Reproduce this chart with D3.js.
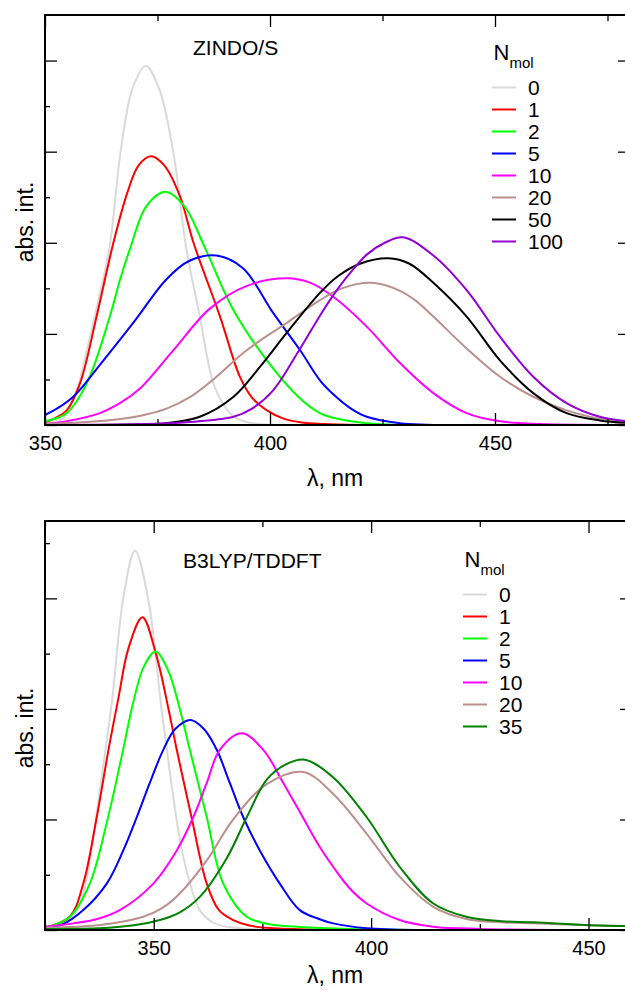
<!DOCTYPE html>
<html lang="en">
<head>
	<meta charset="UTF-8">
	<title>Absorption spectra vs N_mol</title>
	<script type="text/javascript" src="https://cdn.jsdelivr.net/npm/d3@7"></script>
	<style>
		body { margin: 0; background: #fff; }
		text { font-family: "Liberation Sans", Arial, sans-serif; fill: #000; }
	</style>
</head>
<body>
<script type="text/javascript">
	// ---- data: [wavelength nm, intensity (arb.)] ----
	var zindoLabels = ['0', '1', '2', '5', '10', '20', '50', '100'];
	var zindo0 = [[350,0.02],[354,0.07],[357,0.38],[359.3,0.82],[362,1.4],[364.4,1.97],[366.8,3.0],[369.5,3.7],[372.4,3.94],[375.3,3.7],[378.5,3.0],[381.3,1.97],[384.4,1.19],[387.4,0.46],[390,0.2],[392,0.09],[396,0.02],[402,0]];
	var zindo1 = [[350,0.03],[352,0.07],[354.8,0.16],[357.8,0.46],[361.5,1.2],[365.2,2.0],[368.3,2.55],[370.8,2.85],[373.5,2.95],[376.5,2.85],[380,2.51],[383,2.0],[388.9,1.19],[393.3,0.53],[396,0.3],[399.3,0.16],[403,0.07],[406.7,0.03],[412,0.01],[420,0]];
	var zindo2 = [[350,0.04],[354.8,0.13],[359.3,0.46],[364.4,1.19],[366.7,1.6],[369,1.95],[372.5,2.4],[376.7,2.56],[381,2.4],[385.5,1.95],[391.9,1.26],[399.3,0.71],[406.7,0.29],[411.1,0.13],[414,0.08],[421.5,0.02],[430,0]];
	var zindo5 = [[350,0.11],[353,0.19],[356.7,0.33],[362.2,0.66],[369.6,1.12],[377,1.6],[382,1.8],[388.1,1.86],[394,1.72],[400.7,1.23],[406.7,0.82],[411.1,0.49],[414,0.34],[418,0.18],[421.5,0.09],[428.9,0.02],[440,0]];
	var zindo10 = [[350,0.01],[354.8,0.04],[362.2,0.13],[367,0.25],[371.1,0.4],[378.5,0.82],[386.7,1.28],[395,1.53],[403.7,1.61],[409,1.56],[414,1.41],[421.5,1.08],[428.9,0.68],[436.3,0.35],[443.7,0.13],[451.1,0.04],[460,0.01],[480,0]];
	var zindo20 = [[350,0.01],[358,0.03],[365.9,0.06],[372,0.11],[377,0.18],[382,0.3],[387.4,0.5],[394.8,0.82],[403.7,1.12],[411.1,1.37],[416,1.5],[422.6,1.56],[429,1.47],[432.5,1.36],[436.3,1.19],[443.7,0.84],[451.1,0.53],[458.5,0.31],[465.9,0.16],[473.3,0.07],[480,0.03]];
	var zindo50 = [[350,0],[370,0.005],[377,0.02],[384.4,0.09],[391.9,0.31],[397.8,0.64],[403.7,1.01],[411.1,1.45],[415,1.63],[420,1.77],[426.3,1.83],[431,1.77],[436.3,1.56],[443.7,1.19],[451.1,0.71],[458.5,0.35],[465.9,0.13],[473.3,0.05],[480,0.02]];
	var zindo100 = [[350,0],[372,0.01],[381.5,0.03],[391.9,0.09],[396,0.18],[400.7,0.38],[406.7,0.84],[411.1,1.2],[414,1.42],[417.5,1.65],[421.5,1.87],[425.5,2.0],[429.6,2.06],[436.3,1.86],[443.7,1.48],[451.1,0.97],[458.5,0.53],[465.9,0.24],[473.3,0.09],[480,0.04]];

	var b3lypLabels = ['0', '1', '2', '5', '10', '20', '35'];
	var b3lyp0 = [[325,0.01],[329,0.05],[332.5,0.18],[334.5,0.45],[336.5,0.95],[338.8,1.6],[340.5,2.1],[343,3.0],[345.7,3.43],[348.7,3.0],[351.8,2.0],[353.3,1.55],[355.3,0.99],[356.6,0.7],[358.5,0.4],[360.6,0.18],[363.5,0.07],[366.8,0.03],[372,0.01],[380,0]];
	var b3lyp1 = [[325,0.02],[330.7,0.12],[333.8,0.42],[336.9,1.02],[339.6,1.63],[341.9,2.1],[344.2,2.55],[347.4,2.83],[350.5,2.5],[353.4,2.0],[355.3,1.63],[358.7,1.02],[362.2,0.42],[365,0.18],[368.3,0.09],[372,0.04],[376,0.02],[385,0.005],[400,0]];
	var b3lyp2 = [[325,0.02],[330.7,0.12],[335.3,0.42],[339.2,0.97],[342.8,1.6],[345.3,2.06],[347.7,2.38],[350.4,2.52],[353.3,2.35],[356,2.0],[358.3,1.63],[362.2,1.02],[366,0.42],[371.4,0.12],[377,0.05],[383,0.03],[395,0.01],[420,0]];
	var b3lyp5 = [[325,0.02],[329,0.05],[333.8,0.18],[339.2,0.42],[343,0.72],[346.1,1.02],[349.1,1.33],[352.2,1.63],[355,1.82],[358.5,1.9],[361.5,1.82],[364.5,1.63],[367.5,1.33],[370.6,1.02],[374.4,0.72],[379,0.42],[383.6,0.18],[388,0.1],[391.3,0.06],[399,0.015],[410,0]];
	var b3lyp10 = [[325,0.03],[331.5,0.06],[337,0.1],[342.2,0.18],[349.9,0.42],[355.3,0.72],[359.1,1.02],[362.2,1.33],[365.2,1.63],[370.2,1.78],[375.2,1.63],[379.8,1.33],[384,1.04],[388.2,0.75],[391.3,0.57],[395,0.38],[399,0.24],[406.6,0.09],[414.3,0.03],[425,0.01],[460,0]];
	var b3lyp20 = [[325,0.02],[337.6,0.045],[347.6,0.12],[352,0.2],[356,0.33],[362.2,0.63],[368.3,1.0],[376,1.32],[384.4,1.43],[391.3,1.23],[399,0.87],[406.6,0.48],[414.3,0.21],[421.9,0.1],[430,0.07],[437.3,0.06],[452.6,0.04],[460,0.035]];
	var b3lyp35 = [[325,0.01],[337.6,0.015],[345,0.04],[351.4,0.09],[356,0.16],[360.6,0.3],[366.8,0.65],[371.4,1.02],[376,1.36],[380.5,1.5],[384.8,1.54],[391.3,1.38],[399,1.02],[406.6,0.57],[414.3,0.24],[421.9,0.12],[430,0.08],[437.3,0.07],[452.6,0.04],[460,0.035]];

	var zindoXMajor = [350, 400, 450];
	var zindoXMinor = [375, 425, 475];
	var zindoYMajor = [0, 1, 2, 3, 4];
	var zindoYMinor = [0.5, 1.5, 2.5, 3.5];
	var b3lypXMajor = [350, 400, 450];
	var b3lypXMinor = [325, 375, 425];
	var b3lypYMajor = [0, 1, 2, 3];
	var b3lypYMinor = [0.5, 1.5, 2.5, 3.5];

	// ---- styles ----
	var colors = {
		'0': '#dadada', '1': '#ff0000', '2': '#00ff00', '5': '#0000ff',
		'10': '#ff00ff', '20': '#bc8f8f', '35': '#008000', '50': '#000000', '100': '#9400d3'
	};

	var svg = d3.select('body').append('svg')
		.attr('width', 625)
		.attr('height', 990);

	function drawPanel(p) {
		var x = d3.scaleLinear().domain(p.xDomain).range([p.left, p.right]);
		var y = d3.scaleLinear().domain(p.yDomain).range([p.bottom, p.top]);
		var g = svg.append('g');

		g.append('clipPath').attr('id', p.id)
			.append('rect')
			.attr('x', p.left).attr('y', p.top)
			.attr('width', p.right - p.left).attr('height', p.bottom - p.top);

		var line = d3.line()
			.x(function (d) { return x(d[0]); })
			.y(function (d) { return y(d[1]); })
			.curve(d3.curveCatmullRom.alpha(0.5));

		g.append('g').attr('clip-path', 'url(#' + p.id + ')')
			.selectAll('path')
			.data(p.series)
			.enter().append('path')
			.attr('d', function (d) { return line(d.values); })
			.attr('fill', 'none')
			.attr('stroke', function (d) { return colors[d.label]; })
			.attr('stroke-width', 2);

		function ticks(axis, transform, values, size, labels) {
			var a = g.append('g').attr('transform', transform)
				.call(axis.tickValues(values).tickSize(size).tickPadding(11)
					.tickFormat(labels ? d3.format('d') : ''));
			a.select('.domain').remove();
			a.selectAll('line').attr('stroke-width', 1.3);
			a.selectAll('text').attr('font-size', 20)
				.attr('font-family', '"Liberation Sans", Arial, sans-serif');
		}

		ticks(d3.axisBottom(x), 'translate(0,' + p.bottom + ')', p.xMajor, -12, true);
		ticks(d3.axisBottom(x), 'translate(0,' + p.bottom + ')', p.xMinor, -6, false);
		ticks(d3.axisTop(x), 'translate(0,' + p.top + ')', p.xMajor, -12, false);
		ticks(d3.axisTop(x), 'translate(0,' + p.top + ')', p.xMinor, -6, false);
		ticks(d3.axisLeft(y), 'translate(' + p.left + ',0)', p.yMajor, -12, false);
		ticks(d3.axisLeft(y), 'translate(' + p.left + ',0)', p.yMinor, -5, false);
		ticks(d3.axisRight(y), 'translate(' + p.right + ',0)', p.yMajor, -12, false);
		ticks(d3.axisRight(y), 'translate(' + p.right + ',0)', p.yMinor, -5, false);

		g.append('rect')
			.attr('x', p.left).attr('y', p.top)
			.attr('width', p.right - p.left).attr('height', p.bottom - p.top)
			.attr('fill', 'none').attr('stroke', '#000').attr('stroke-width', 2);

		g.append('text')
			.attr('x', p.titleX).attr('y', p.titleY)
			.attr('font-size', 21)
			.text(p.title);

		g.append('text')
			.attr('transform', 'translate(33,' + p.yLabelY + ') rotate(-90)')
			.attr('text-anchor', 'middle')
			.attr('font-size', 23)
			.text('abs. int.');

		g.append('text')
			.attr('x', 335).attr('y', p.xLabelY)
			.attr('text-anchor', 'middle')
			.attr('font-size', 23)
			.text('\u03bb, nm');

		// legend
		var leg = g.append('g').attr('transform', 'translate(' + p.legX + ',' + p.legY + ')');
		var head = leg.append('text').attr('x', 1.5).attr('y', 0).attr('font-size', 22);
		head.append('tspan').text('N');
		head.append('tspan').attr('font-size', 15).attr('dy', 8).text('mol');

		var rows = leg.selectAll('.row')
			.data(p.series)
			.enter().append('g')
			.attr('class', 'row')
			.attr('transform', function (d, i) { return 'translate(0,' + (27.5 + i * 22) + ')'; });
		rows.append('line')
			.attr('x1', 0).attr('x2', 24)
			.attr('stroke', function (d) { return colors[d.label]; })
			.attr('stroke-width', 2);
		rows.append('text')
			.attr('x', 36).attr('y', 7.5)
			.attr('font-size', 21)
			.text(function (d) { return d.label; });
	}

	var zindoValues = [zindo0, zindo1, zindo2, zindo5, zindo10, zindo20, zindo50, zindo100];
	var b3lypValues = [b3lyp0, b3lyp1, b3lyp2, b3lyp5, b3lyp10, b3lyp20, b3lyp35];

	drawPanel({
		id: 'clipTop', left: 45, right: 630, top: 15, bottom: 425,
		xDomain: [350, 480], yDomain: [0, 4.5],
		xMajor: zindoXMajor, xMinor: zindoXMinor, yMajor: zindoYMajor, yMinor: zindoYMinor,
		series: zindoLabels.map(function (l, i) { return {label: l, values: zindoValues[i]}; }),
		title: 'ZINDO/S', titleX: 193, titleY: 55,
		yLabelY: 222, xLabelY: 486,
		legX: 492, legY: 60
	});

	drawPanel({
		id: 'clipBottom', left: 45, right: 632, top: 521, bottom: 930,
		xDomain: [325, 460], yDomain: [0, 3.7],
		xMajor: b3lypXMajor, xMinor: b3lypXMinor, yMajor: b3lypYMajor, yMinor: b3lypYMinor,
		series: b3lypLabels.map(function (l, i) { return {label: l, values: b3lypValues[i]}; }),
		title: 'B3LYP/TDDFT', titleX: 183, titleY: 568,
		yLabelY: 728, xLabelY: 983,
		legX: 463, legY: 567
	});
</script>
</body>
</html>
